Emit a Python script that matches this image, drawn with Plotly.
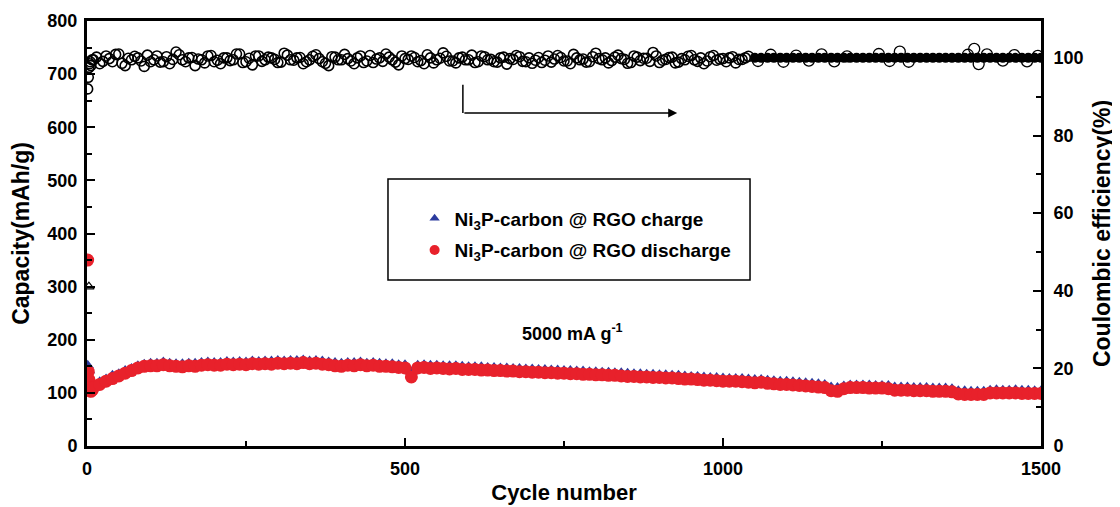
import plotly.graph_objects as go

# ---------------- data ----------------
cycles_early = [1, 2, 3, 4, 5, 6, 8]
cycles = cycles_early + list(range(10, 1501, 10))

discharge = [350, 140, 125, 110, 104, 103, 105,
             110, 116, 122, 127, 132, 137, 142, 147, 150, 151,
             151, 153, 151, 150, 149, 151, 150, 152, 153, 152,
             152, 154, 153, 154, 153, 155, 154, 155, 154, 156,
             155, 156, 155, 157, 155, 156, 154, 153, 151, 150,
             152, 151, 153, 151, 152, 150, 150, 149, 148, 147,
             130, 147, 148, 146, 147, 146, 145, 146, 144, 144,
             144, 143, 143, 142, 142, 141, 141, 140, 140, 139,
             139, 138, 138, 137, 137, 136, 136, 135, 135, 134,
             134, 133, 133, 132, 131, 131, 130, 130, 129, 129,
             128, 128, 127, 126, 126, 125, 124, 124, 123, 122,
             122, 122, 121, 120, 119, 120, 118, 117, 116, 116,
             115, 114, 113, 112, 111, 110, 104, 103, 108, 110,
             110, 110, 109, 109, 109, 108, 105, 105, 105, 104,
             104, 104, 103, 103, 103, 102, 98, 97, 97, 97,
             97, 100, 100, 100, 100, 100, 99, 99, 99, 99]

charge = [152, 148, 142, 120, 110, 108, 109,
          114, 121, 126, 133, 136, 142, 146, 151, 154, 156,
          156, 158, 156, 155, 155, 156, 156, 157, 158, 157,
          157, 159, 158, 159, 158, 160, 159, 160, 160, 161,
          160, 161, 161, 162, 160, 161, 160, 158, 157, 156,
          157, 157, 158, 156, 157, 156, 155, 155, 153, 153,
          140, 152, 153, 152, 152, 151, 151, 151, 150, 149,
          149, 149, 148, 148, 147, 147, 146, 146, 145, 145,
          144, 144, 143, 143, 142, 142, 141, 141, 140, 140,
          139, 139, 138, 138, 137, 136, 136, 135, 135, 134,
          134, 133, 133, 132, 131, 131, 130, 129, 129, 128,
          127, 127, 127, 126, 125, 125, 124, 123, 122, 122,
          121, 120, 119, 118, 117, 116, 111, 110, 113, 115,
          115, 115, 115, 114, 114, 114, 111, 111, 111, 110,
          110, 110, 109, 109, 109, 108, 104, 104, 103, 103,
          103, 105, 106, 105, 105, 106, 105, 105, 104, 104]

ce = [92, 95, 97.5, 98.5, 99, 98, 99.5,
      99.5, 98.5, 100.5, 99, 101, 98, 99.5, 100, 97.8, 99,
      100.5, 99, 98.5, 101.5, 99.5, 100, 98, 99.5, 100.5, 99,
      98.5, 100, 99.5, 101, 99, 98.2, 100.5, 99.5, 100, 98.8,
      101.2, 99.5, 100, 98.5, 99.5, 100.8, 99, 98, 100.2, 99.5,
      99.8, 98.5, 100.5, 99.2, 98.8, 100, 101, 99.5, 98.2, 99.8,
      100.5, 99, 98.5, 100, 99.5, 101.3, 99.2, 98.7, 100.2, 99.5,
      98.8, 100.5, 99.5, 99, 100, 98.4, 99.6, 100.3, 99, 98.6,
      100.1, 99.4, 98.9, 100.6, 99.2, 98.5, 100, 99.7, 99, 101.2,
      99.5, 98.7, 100.2, 99.8, 98.6, 100.5, 99.3, 99.9, 101.4, 98.8,
      99.6, 100.2, 98.9, 99.5, 100.6, 99.1, 98.5, 100.3, 99.4, 99.8,
      100, 98.7, 99.6, 100.4, 100, 100, 100, 100, 100, 100,
      100, 100, 100, 100, 100, 100, 100, 100, 100, 100,
      100, 100, 100, 100, 100, 100, 100, 100, 100, 100,
      100, 100, 100, 100, 100, 100, 100, 100, 100, 100,
      100, 100, 100, 100, 100, 100, 100, 100, 100, 100]

# intermediate cycles (15, 25, ... 1035) of the coulombic efficiency
ce_mid_cycles = list(range(15, 1040, 10))
ce_mid = [100.2, 99.1, 99.8, 100.9, 98.6, 99.9, 100.4, 99.2, 100.7, 99.5,
          98.9, 100.3, 99.6, 100.8, 99.0, 100.1, 99.7, 98.7, 100.6, 99.4,
          100.0, 99.3, 101.0, 98.8, 99.9, 100.5, 99.1, 100.2, 99.6, 98.9,
          100.7, 99.4, 100.1, 99.0, 100.4, 99.8, 98.6, 100.3, 99.5, 100.9,
          99.2, 100.0, 98.8, 100.6, 99.7, 99.1, 100.2, 98.9, 100.5, 99.6,
          100.1, 99.3, 100.8, 98.7, 99.9, 100.4, 99.2, 100.0, 99.5, 100.7,
          99.0, 100.3, 99.6, 98.9, 100.2, 99.8, 100.6, 99.1, 100.0, 99.4,
          98.8, 100.5, 99.7, 100.1, 99.2, 100.9, 99.5, 98.9, 100.3, 99.8,
          100.0, 99.3, 100.7, 99.6, 98.8, 100.2, 99.9, 99.1, 100.5, 99.4,
          100.1, 98.7, 99.8, 100.4, 99.5, 100.0, 99.2, 100.6, 99.7, 99.0,
          100.3, 99.6, 100.0]

ce_scatter_cycles = [1055, 1075, 1095, 1115, 1135, 1155, 1175, 1195, 1245, 1262,
                     1278, 1292, 1385, 1395, 1402, 1415, 1440, 1458, 1478, 1495]
ce_scatter = [99.2, 100.8, 99.0, 100.6, 99.3, 100.9, 99.1, 100.4, 101.0, 99.2,
              101.6, 99.0, 100.8, 102.3, 98.4, 100.9, 99.3, 100.7, 99.1, 100.5]

first_charge_cycle = [3]
first_charge = [300]

rate_label = "5000 mA g<sup>-1</sup>"
x_ticks = [0, 500, 1000, 1500]
charge_name = "Ni<sub>3</sub>P-carbon @ RGO charge"
discharge_name = "Ni<sub>3</sub>P-carbon @ RGO discharge"

# ---------------- figure ----------------
FONT = "Liberation Sans, Arial, sans-serif"
BLUE = "#2b3b9e"
RED = "#e8212b"
late = [c >= 1045 for c in cycles]
ce_main_x = [c for c, l in zip(cycles, late) if not l] + ce_mid_cycles
ce_main_y = [v for v, l in zip(ce, late) if not l] + ce_mid
ce_late_x = [c for c, l in zip(cycles, late) if l]
ce_late_y = [v for v, l in zip(ce, late) if l]

fig = go.Figure()

fig.add_trace(go.Scatter(
    x=ce_main_x, y=ce_main_y, yaxis="y2", mode="markers", showlegend=False,
    marker=dict(symbol="circle-open", size=10, color="black", line=dict(width=1.6))))
fig.add_trace(go.Scatter(
    x=ce_late_x, y=ce_late_y, yaxis="y2", mode="markers", showlegend=False,
    marker=dict(symbol="circle", size=10, color="black")))
fig.add_trace(go.Scatter(
    x=ce_scatter_cycles, y=ce_scatter, yaxis="y2", mode="markers", showlegend=False,
    marker=dict(symbol="circle-open", size=11, color="black", line=dict(width=1.3))))

fig.add_trace(go.Scatter(
    x=cycles, y=charge, mode="markers", showlegend=False,
    marker=dict(symbol="triangle-up", size=11, color=BLUE)))
fig.add_trace(go.Scatter(
    x=cycles, y=discharge, mode="markers", showlegend=False,
    marker=dict(symbol="circle", size=13, color=RED)))
fig.add_trace(go.Scatter(
    x=first_charge_cycle, y=first_charge, mode="markers", showlegend=False,
    marker=dict(symbol="triangle-up-open", size=9, color="black", line=dict(width=1.2))))

# legend entries (smaller symbols, as in the reference)
fig.add_trace(go.Scatter(x=[None], y=[None], mode="markers", name=charge_name,
                         legendgroup="a", marker=dict(symbol="triangle-up", size=9, color=BLUE)))
fig.add_trace(go.Scatter(x=[None], y=[None], mode="markers", name=discharge_name,
                         legendgroup="b", marker=dict(symbol="circle", size=10, color=RED)))

tickfont = dict(family=FONT, size=18, color="black", weight="bold")
titlefont = dict(family=FONT, size=22, color="black", weight="bold")
ytitlefont = dict(family=FONT, size=23, color="black", weight="bold")

# the page body has an 8 px margin, so the figure is sized to fit 1120x507
fig.update_layout(
    width=1112, height=499,
    paper_bgcolor="white", plot_bgcolor="white",
    margin=dict(l=79, r=79, t=13, b=61, autoexpand=False),
    font=dict(family=FONT, color="black"),
    xaxis=dict(range=[0, 1500], tickvals=x_ticks, showgrid=False, zeroline=False,
               automargin=False,
               showline=True, linewidth=3, linecolor="black", mirror=True,
               ticks="inside", ticklen=8, tickwidth=2, tickcolor="black",
               minor=dict(ticks="inside", ticklen=5, tickwidth=2, dtick=250, tickcolor="black"),
               tickfont=tickfont, ticklabelstandoff=4,
               title=dict(text="Cycle number", font=titlefont, standoff=8)),
    yaxis=dict(range=[0, 800], dtick=100, showgrid=False, zeroline=False,
               automargin=False,
               showline=True, linewidth=3, linecolor="black",
               ticks="inside", ticklen=8, tickwidth=2, tickcolor="black",
               minor=dict(ticks="inside", ticklen=5, tickwidth=2, dtick=50, tickcolor="black"),
               tickfont=tickfont, ticklabelstandoff=3,
               title=dict(text="Capacity(mAh/g)", font=ytitlefont, standoff=12)),
    yaxis2=dict(range=[0, 109.5], dtick=20, overlaying="y", side="right",
                automargin=False,
                showgrid=False, zeroline=False,
                showline=True, linewidth=3, linecolor="black",
                ticks="inside", ticklen=8, tickwidth=2, tickcolor="black",
                minor=dict(ticks="inside", ticklen=5, tickwidth=2, dtick=10, tickcolor="black"),
                tickfont=tickfont, ticklabelstandoff=6,
                title=dict(text="Coulombic efficiency(%)", font=ytitlefont, standoff=12)),
    legend=dict(x=0.3434, y=0.58, xanchor="left", yanchor="top",
                bgcolor="rgba(0,0,0,0)", borderwidth=0,
                font=dict(family=FONT, size=19, color="black", weight="bold"),
                traceorder="grouped", tracegroupgap=4),
    shapes=[
        dict(type="rect", xref="paper", yref="paper", x0=0.3155, x1=0.695, y0=0.3906, y1=0.628,
             line=dict(color="black", width=1.5), fillcolor="rgba(0,0,0,0)"),
        dict(type="line", xref="x", yref="y", x0=591, x1=591, y0=680, y1=627,
             line=dict(color="black", width=1.5)),
    ],
    annotations=[
        dict(x=928, y=627, xref="x", yref="y", ax=591, ay=627, axref="x", ayref="y",
             text="", showarrow=True, arrowhead=2, arrowsize=1.2, arrowwidth=1.5,
             arrowcolor="black"),
        dict(x=764, y=213, xref="x", yref="y", text=rate_label, showarrow=False,
             font=dict(family=FONT, size=18, color="black", weight="bold")),
    ],
)

fig.write_html("out.html")
